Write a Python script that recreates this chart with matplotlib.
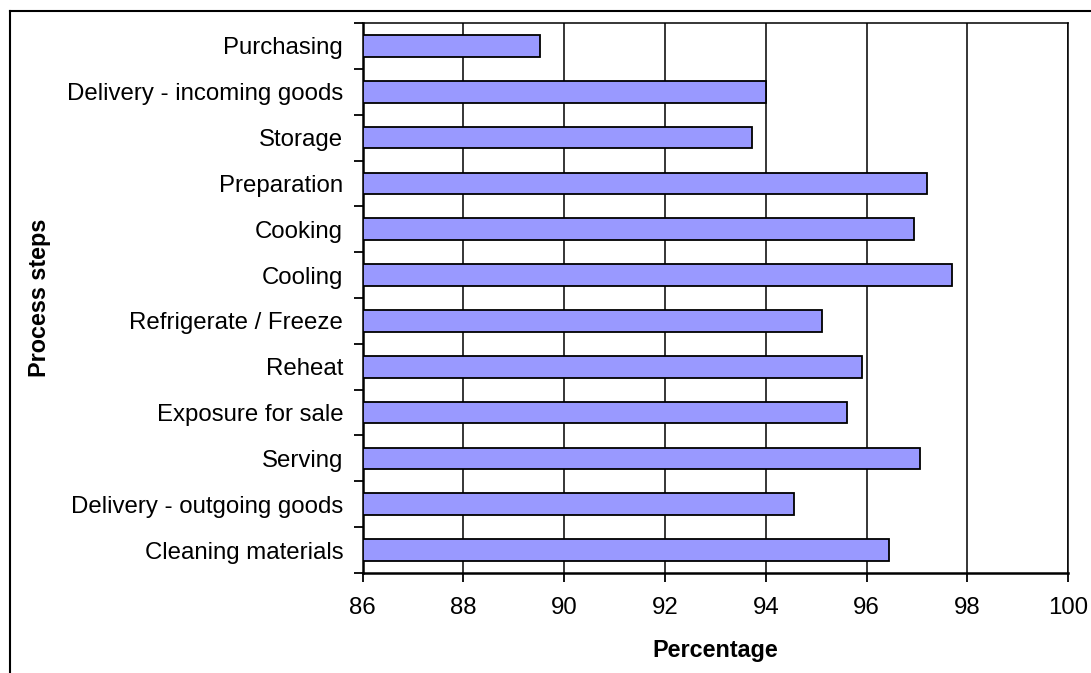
import matplotlib
matplotlib.use("Agg")
import matplotlib.pyplot as plt
from matplotlib.lines import Line2D
import numpy as np

steps = [
    "Purchasing",
    "Delivery - incoming goods",
    "Storage",
    "Preparation",
    "Cooking",
    "Cooling",
    "Refrigerate / Freeze",
    "Reheat",
    "Exposure for sale",
    "Serving",
    "Delivery - outgoing goods",
    "Cleaning materials",
]
percentages = [89.52, 94.0, 93.73, 97.19, 96.94, 97.70, 95.12, 95.91, 95.60, 97.06, 94.56, 96.44]
x_ticks = [86, 88, 90, 92, 94, 96, 98, 100]

plt.rcParams["font.family"] = ["Liberation Sans", "DejaVu Sans"]
FS = 17.3
FS_LABEL = 16.8

fig = plt.figure(figsize=(10.91, 6.73), dpi=100)
ax = fig.add_axes([0.3324, 0.1486, 0.9792 - 0.3324, 0.9658 - 0.1486])

y = np.arange(len(steps))
left = x_ticks[0]
ax.barh(y, np.array(percentages) - left, left=left, height=0.47,
        color="#9999FF", edgecolor="black", linewidth=1.3, zorder=3)

ax.set_xlim(x_ticks[0], x_ticks[-1])
ax.set_ylim(len(steps) - 0.5, -0.5)

ax.set_xticks(x_ticks)
ax.set_xticklabels([str(t) for t in x_ticks], fontsize=FS)
ax.grid(axis="x", color="black", linewidth=1.1, zorder=1)

# category boundaries carry the tick marks, centres carry the labels
ax.set_yticks(np.arange(len(steps) + 1) - 0.5)
ax.set_yticklabels([])
ax.set_yticks(y, minor=True)
ax.set_yticklabels(steps, minor=True, fontsize=FS)
ax.tick_params(axis="y", which="minor", length=0, pad=14)
ax.tick_params(axis="y", which="major", length=6.5, width=1.3, direction="out")
ax.tick_params(axis="x", length=6.5, width=1.3, direction="out", pad=10.5)

for side in ["left", "bottom"]:
    ax.spines[side].set_linewidth(1.8)
for side in ["top", "right"]:
    ax.spines[side].set_linewidth(1.1)

ax.set_xlabel("Percentage", fontsize=FS_LABEL, fontweight="bold", labelpad=15)
ax.set_ylabel("Process steps", fontsize=FS_LABEL, fontweight="bold")
ax.yaxis.set_label_coords(-0.441, 0.5)

# outer chart frame
fig.add_artist(Line2D([10 / 1091, 1.0], [1 - 11 / 673, 1 - 11 / 673],
                      transform=fig.transFigure, color="black", linewidth=1.5))
fig.add_artist(Line2D([10 / 1091, 10 / 1091], [0.0, 1 - 11 / 673],
                      transform=fig.transFigure, color="black", linewidth=1.5))

fig.savefig("out.png", dpi=100)
